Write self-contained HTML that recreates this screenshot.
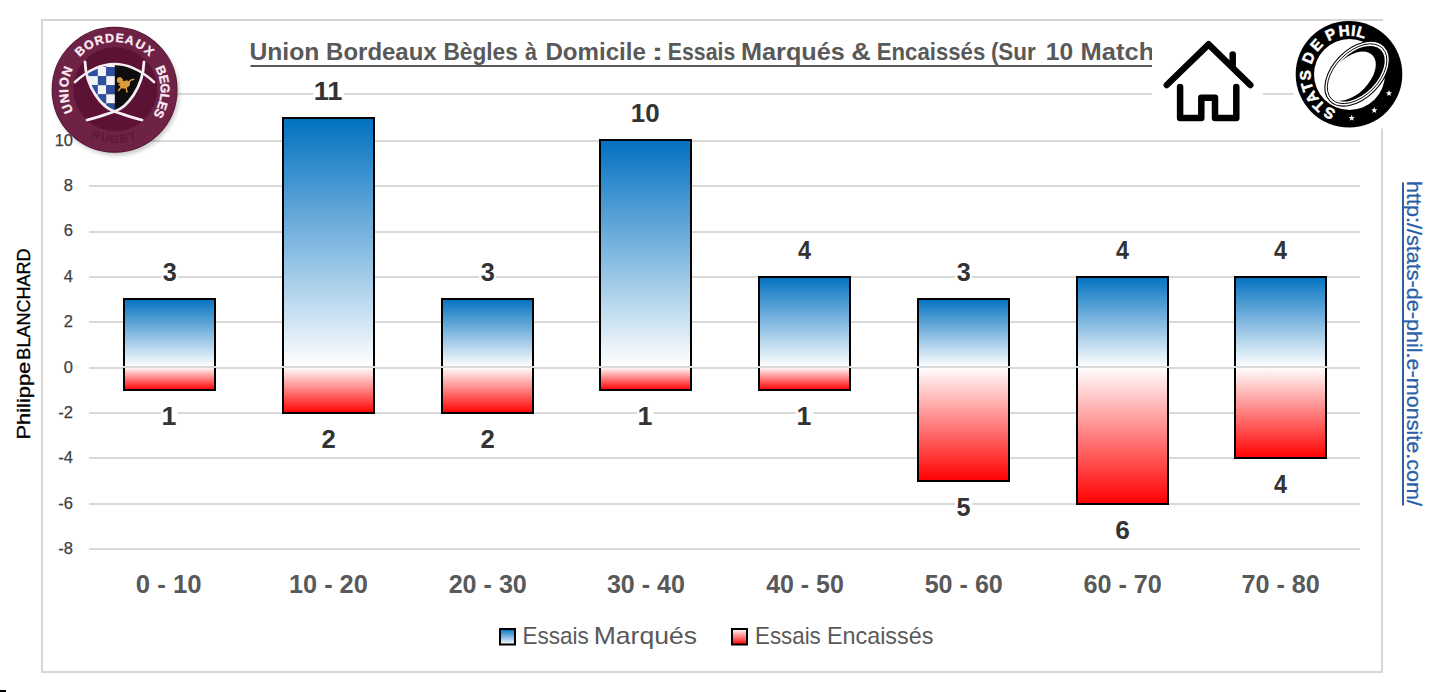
<!DOCTYPE html>
<html><head><meta charset="utf-8">
<style>
html,body{margin:0;padding:0;background:#fff;width:1434px;height:692px;overflow:hidden}
svg{position:absolute;left:0;top:0}
text{font-family:"Liberation Sans",sans-serif}
.yl{font-size:16.5px;fill:#404040;stroke:#404040;stroke-width:0.25px;text-anchor:end}
.dl{font-size:24.3px;font-weight:bold;fill:#333333;text-anchor:middle}
.xl{font-size:24.6px;font-weight:bold;fill:#595959;text-anchor:middle}
.lg{font-size:24.2px;fill:#595959}
</style></head><body>
<svg width="1434" height="692" viewBox="0 0 1434 692">
<defs>
<linearGradient id="gb" x1="0" y1="0" x2="0" y2="1">
<stop offset="0" stop-color="#0070c0"/><stop offset="1" stop-color="#ffffff"/>
</linearGradient>
<linearGradient id="gr" x1="0" y1="0" x2="0" y2="1">
<stop offset="0" stop-color="#ffffff"/><stop offset="1" stop-color="#ff0000"/>
</linearGradient>
</defs>
<rect x="42" y="20" width="1340" height="652" fill="none" stroke="#d6d6d6" stroke-width="2"/>
<rect x="89" y="548" width="1271" height="2" fill="#d9d9d9"/>
<rect x="89" y="503" width="1271" height="2" fill="#d9d9d9"/>
<rect x="89" y="457" width="1271" height="2" fill="#d9d9d9"/>
<rect x="89" y="412" width="1271" height="2" fill="#d9d9d9"/>
<rect x="89" y="367" width="1271" height="2" fill="#d9d9d9"/>
<rect x="89" y="321" width="1271" height="2" fill="#d9d9d9"/>
<rect x="89" y="276" width="1271" height="2" fill="#d9d9d9"/>
<rect x="89" y="231" width="1271" height="2" fill="#d9d9d9"/>
<rect x="89" y="185" width="1271" height="2" fill="#d9d9d9"/>
<rect x="89" y="140" width="1271" height="2" fill="#d9d9d9"/>
<rect x="89" y="93" width="1271" height="2" fill="#d9d9d9"/>
<text x="73" y="554.2" class="yl">-8</text>
<text x="73" y="508.8" class="yl">-6</text>
<text x="73" y="463.4" class="yl">-4</text>
<text x="73" y="418.0" class="yl">-2</text>
<text x="73" y="372.6" class="yl">0</text>
<text x="73" y="327.2" class="yl">2</text>
<text x="73" y="281.8" class="yl">4</text>
<text x="73" y="236.4" class="yl">6</text>
<text x="73" y="191.0" class="yl">8</text>
<text x="73" y="145.6" class="yl">10</text>
<rect x="124" y="298" width="91" height="69" fill="url(#gb)"/>
<rect x="124" y="367" width="91" height="23" fill="url(#gr)"/>
<path d="M124,367 V299 H215 V367 M124,367 V390 H215 V367" fill="none" stroke="#000" stroke-width="2"/>
<rect x="123" y="366" width="93" height="2" fill="#d9d9d9"/>
<rect x="161.2" y="260.7" width="16.6" height="23" fill="#fff"/>
<text x="162.70" y="280.70" font-size="25.5px" font-weight="bold" fill="#333333" textLength="14.01" lengthAdjust="spacingAndGlyphs" >3</text>
<rect x="161.2" y="405.2" width="16.6" height="23" fill="#fff"/>
<text x="161.59" y="425.20" font-size="25.5px" font-weight="bold" fill="#333333" textLength="14.91" lengthAdjust="spacingAndGlyphs" >1</text>
<text x="135.77" y="592.80" font-size="25.5px" font-weight="bold" fill="#595959" textLength="65.78" lengthAdjust="spacingAndGlyphs" >0 - 10</text>
<rect x="283" y="117" width="91" height="250" fill="url(#gb)"/>
<rect x="283" y="367" width="91" height="46" fill="url(#gr)"/>
<path d="M283,367 V118 H374 V367 M283,367 V413 H374 V367" fill="none" stroke="#000" stroke-width="2"/>
<rect x="282" y="366" width="93" height="2" fill="#d9d9d9"/>
<rect x="313.3" y="79.7" width="30.4" height="23" fill="#fff"/>
<text x="313.67" y="99.70" font-size="25.5px" font-weight="bold" fill="#333333" textLength="28.77" lengthAdjust="spacingAndGlyphs" >11</text>
<rect x="320.2" y="428.2" width="16.6" height="23" fill="#fff"/>
<text x="321.43" y="448.20" font-size="25.5px" font-weight="bold" fill="#333333" textLength="14.30" lengthAdjust="spacingAndGlyphs" >2</text>
<text x="288.88" y="592.80" font-size="25.5px" font-weight="bold" fill="#595959" textLength="78.96" lengthAdjust="spacingAndGlyphs" >10 - 20</text>
<rect x="442" y="298" width="91" height="69" fill="url(#gb)"/>
<rect x="442" y="367" width="91" height="46" fill="url(#gr)"/>
<path d="M442,367 V299 H533 V367 M442,367 V413 H533 V367" fill="none" stroke="#000" stroke-width="2"/>
<rect x="441" y="366" width="93" height="2" fill="#d9d9d9"/>
<rect x="479.2" y="260.7" width="16.6" height="23" fill="#fff"/>
<text x="480.70" y="280.70" font-size="25.5px" font-weight="bold" fill="#333333" textLength="14.01" lengthAdjust="spacingAndGlyphs" >3</text>
<rect x="479.2" y="428.2" width="16.6" height="23" fill="#fff"/>
<text x="480.43" y="448.20" font-size="25.5px" font-weight="bold" fill="#333333" textLength="14.30" lengthAdjust="spacingAndGlyphs" >2</text>
<text x="448.65" y="592.80" font-size="25.5px" font-weight="bold" fill="#595959" textLength="78.18" lengthAdjust="spacingAndGlyphs" >20 - 30</text>
<rect x="600" y="139" width="91" height="228" fill="url(#gb)"/>
<rect x="600" y="367" width="91" height="23" fill="url(#gr)"/>
<path d="M600,367 V140 H691 V367 M600,367 V390 H691 V367" fill="none" stroke="#000" stroke-width="2"/>
<rect x="599" y="366" width="93" height="2" fill="#d9d9d9"/>
<rect x="630.3" y="101.7" width="30.4" height="23" fill="#fff"/>
<text x="630.75" y="121.70" font-size="25.5px" font-weight="bold" fill="#333333" textLength="28.79" lengthAdjust="spacingAndGlyphs" >10</text>
<rect x="637.2" y="405.2" width="16.6" height="23" fill="#fff"/>
<text x="637.59" y="425.20" font-size="25.5px" font-weight="bold" fill="#333333" textLength="14.91" lengthAdjust="spacingAndGlyphs" >1</text>
<text x="606.90" y="592.80" font-size="25.5px" font-weight="bold" fill="#595959" textLength="77.93" lengthAdjust="spacingAndGlyphs" >30 - 40</text>
<rect x="759" y="276" width="91" height="91" fill="url(#gb)"/>
<rect x="759" y="367" width="91" height="23" fill="url(#gr)"/>
<path d="M759,367 V277 H850 V367 M759,367 V390 H850 V367" fill="none" stroke="#000" stroke-width="2"/>
<rect x="758" y="366" width="93" height="2" fill="#d9d9d9"/>
<rect x="796.2" y="238.7" width="16.6" height="23" fill="#fff"/>
<text x="797.97" y="258.70" font-size="25.5px" font-weight="bold" fill="#333333" textLength="12.98" lengthAdjust="spacingAndGlyphs" >4</text>
<rect x="796.2" y="405.2" width="16.6" height="23" fill="#fff"/>
<text x="796.59" y="425.20" font-size="25.5px" font-weight="bold" fill="#333333" textLength="14.91" lengthAdjust="spacingAndGlyphs" >1</text>
<text x="766.15" y="592.80" font-size="25.5px" font-weight="bold" fill="#595959" textLength="77.67" lengthAdjust="spacingAndGlyphs" >40 - 50</text>
<rect x="918" y="298" width="91" height="69" fill="url(#gb)"/>
<rect x="918" y="367" width="91" height="114" fill="url(#gr)"/>
<path d="M918,367 V299 H1009 V367 M918,367 V481 H1009 V367" fill="none" stroke="#000" stroke-width="2"/>
<rect x="917" y="366" width="93" height="2" fill="#d9d9d9"/>
<rect x="955.2" y="260.7" width="16.6" height="23" fill="#fff"/>
<text x="956.70" y="280.70" font-size="25.5px" font-weight="bold" fill="#333333" textLength="14.01" lengthAdjust="spacingAndGlyphs" >3</text>
<rect x="955.2" y="496.2" width="16.6" height="23" fill="#fff"/>
<text x="956.44" y="516.20" font-size="25.5px" font-weight="bold" fill="#333333" textLength="14.01" lengthAdjust="spacingAndGlyphs" >5</text>
<text x="924.65" y="592.80" font-size="25.5px" font-weight="bold" fill="#595959" textLength="78.18" lengthAdjust="spacingAndGlyphs" >50 - 60</text>
<rect x="1077" y="276" width="91" height="91" fill="url(#gb)"/>
<rect x="1077" y="367" width="91" height="137" fill="url(#gr)"/>
<path d="M1077,367 V277 H1168 V367 M1077,367 V504 H1168 V367" fill="none" stroke="#000" stroke-width="2"/>
<rect x="1076" y="366" width="93" height="2" fill="#d9d9d9"/>
<rect x="1114.2" y="238.7" width="16.6" height="23" fill="#fff"/>
<text x="1115.97" y="258.70" font-size="25.5px" font-weight="bold" fill="#333333" textLength="12.98" lengthAdjust="spacingAndGlyphs" >4</text>
<rect x="1114.2" y="519.2" width="16.6" height="23" fill="#fff"/>
<text x="1115.15" y="539.20" font-size="25.5px" font-weight="bold" fill="#333333" textLength="14.60" lengthAdjust="spacingAndGlyphs" >6</text>
<text x="1083.39" y="592.80" font-size="25.5px" font-weight="bold" fill="#595959" textLength="78.44" lengthAdjust="spacingAndGlyphs" >60 - 70</text>
<rect x="1235" y="276" width="91" height="91" fill="url(#gb)"/>
<rect x="1235" y="367" width="91" height="91" fill="url(#gr)"/>
<path d="M1235,367 V277 H1326 V367 M1235,367 V458 H1326 V367" fill="none" stroke="#000" stroke-width="2"/>
<rect x="1234" y="366" width="93" height="2" fill="#d9d9d9"/>
<rect x="1272.2" y="238.7" width="16.6" height="23" fill="#fff"/>
<text x="1273.97" y="258.70" font-size="25.5px" font-weight="bold" fill="#333333" textLength="12.98" lengthAdjust="spacingAndGlyphs" >4</text>
<rect x="1272.2" y="473.2" width="16.6" height="23" fill="#fff"/>
<text x="1273.97" y="493.20" font-size="25.5px" font-weight="bold" fill="#333333" textLength="12.98" lengthAdjust="spacingAndGlyphs" >4</text>
<text x="1241.39" y="592.80" font-size="25.5px" font-weight="bold" fill="#595959" textLength="78.44" lengthAdjust="spacingAndGlyphs" >70 - 80</text>
<text x="249.42" y="60.30" font-size="24px" font-weight="bold" fill="#595959" textLength="69.92" lengthAdjust="spacingAndGlyphs" >Union</text>
<text x="326.12" y="60.30" font-size="24px" font-weight="bold" fill="#595959" textLength="110.53" lengthAdjust="spacingAndGlyphs" >Bordeaux</text>
<text x="443.41" y="60.30" font-size="24px" font-weight="bold" fill="#595959" textLength="74.48" lengthAdjust="spacingAndGlyphs" >Bègles</text>
<text x="524.97" y="60.30" font-size="24px" font-weight="bold" fill="#595959" textLength="11.95" lengthAdjust="spacingAndGlyphs" >à</text>
<text x="545.41" y="60.30" font-size="24px" font-weight="bold" fill="#595959" textLength="100.50" lengthAdjust="spacingAndGlyphs" >Domicile</text>
<text x="651.43" y="60.30" font-size="24px" font-weight="bold" fill="#595959" textLength="11.89" lengthAdjust="spacingAndGlyphs" >:</text>
<text x="667.81" y="60.30" font-size="24px" font-weight="bold" fill="#595959" textLength="67.42" lengthAdjust="spacingAndGlyphs" >Essais</text>
<text x="741.03" y="60.30" font-size="24px" font-weight="bold" fill="#595959" textLength="103.77" lengthAdjust="spacingAndGlyphs" >Marqués</text>
<text x="851.32" y="60.30" font-size="24px" font-weight="bold" fill="#595959" textLength="19.55" lengthAdjust="spacingAndGlyphs" >&amp;</text>
<text x="876.75" y="60.30" font-size="24px" font-weight="bold" fill="#595959" textLength="108.47" lengthAdjust="spacingAndGlyphs" >Encaissés</text>
<text x="990.88" y="60.30" font-size="24px" font-weight="bold" fill="#595959" textLength="44.85" lengthAdjust="spacingAndGlyphs" >(Sur</text>
<text x="1045.72" y="60.30" font-size="24px" font-weight="bold" fill="#595959" textLength="27.37" lengthAdjust="spacingAndGlyphs" >10</text>
<text x="1080.62" y="60.30" font-size="24px" font-weight="bold" fill="#595959" textLength="73.58" lengthAdjust="spacingAndGlyphs" >Match</text>
<rect x="250.5" y="65" width="902.5" height="2" fill="#595959"/>
<rect x="500" y="629" width="15" height="15.5" fill="url(#gb)" stroke="#000" stroke-width="2"/>
<text x="522.50" y="643.90" font-size="24px" font-weight="normal" fill="#595959" textLength="66.30" lengthAdjust="spacingAndGlyphs" >Essais</text>
<text x="593.78" y="643.90" font-size="24px" font-weight="normal" fill="#595959" textLength="103.19" lengthAdjust="spacingAndGlyphs" >Marqués</text>
<text x="755.01" y="643.90" font-size="24px" font-weight="normal" fill="#595959" textLength="65.78" lengthAdjust="spacingAndGlyphs" >Essais</text>
<text x="826.93" y="643.90" font-size="24px" font-weight="normal" fill="#595959" textLength="106.44" lengthAdjust="spacingAndGlyphs" >Encaissés</text>
<rect x="732" y="629" width="15" height="15.5" fill="url(#gr)" stroke="#000" stroke-width="2"/>

<g transform="translate(29.9,0) rotate(-90)"><text x="-439.55" y="0.00" font-size="18.3px" font-weight="normal" fill="#000" textLength="77.80" lengthAdjust="spacingAndGlyphs" stroke="#000" stroke-width="0.3">Philippe</text><text x="-359.64" y="0.00" font-size="18.3px" font-weight="normal" fill="#000" textLength="111.13" lengthAdjust="spacingAndGlyphs" stroke="#000" stroke-width="0.3">BLANCHARD</text></g>
<g transform="translate(1406.5,0) rotate(90)"><text x="181.09" y="0.00" font-size="19.5px" font-weight="normal" fill="#2a5fa8" textLength="324.92" lengthAdjust="spacingAndGlyphs" stroke="#2a5fa8" stroke-width="0.3">http://stats-de-phil.e-monsite.com/</text></g>
<rect x="1402" y="182.5" width="2" height="323" fill="#2a5fa8"/>
<rect x="1152" y="22" width="111" height="106" fill="#fff"/>
<g fill="none" stroke="#000" stroke-width="6.5" stroke-linecap="round" stroke-linejoin="round">
<polyline points="1166.8,85 1208.6,44.3 1250.3,85"/>
<line x1="1232.7" y1="54.5" x2="1232.7" y2="65"/>
<polyline points="1180.1,87 1180.1,118 1201.3,118 1201.3,97.8 1215,97.8 1215,118 1236.3,118 1236.3,87"/>
</g>
<filter id="blr" x="-20%" y="-20%" width="140%" height="140%"><feGaussianBlur stdDeviation="2"/></filter>
<circle cx="116.6" cy="92.8" r="62.5" fill="#000" opacity="0.22" filter="url(#blr)"/>
<circle cx="114.6" cy="89.8" r="62.4" fill="#6e2246" stroke="#5c1737" stroke-width="1.2"/>
<circle cx="115.3" cy="89.3" r="42" fill="#5b1234"/>
<text transform="translate(67.28,108.82) rotate(-111.90)" text-anchor="middle" dominant-baseline="central" font-size="12.8px" font-weight="bold" fill="#fbeaf2" stroke="#fbeaf2" stroke-width="0.35">U</text>
<text transform="translate(64.34,98.48) rotate(-99.80)" text-anchor="middle" dominant-baseline="central" font-size="12.8px" font-weight="bold" fill="#fbeaf2" stroke="#fbeaf2" stroke-width="0.35">N</text>
<text transform="translate(63.62,91.05) rotate(-91.40)" text-anchor="middle" dominant-baseline="central" font-size="12.8px" font-weight="bold" fill="#fbeaf2" stroke="#fbeaf2" stroke-width="0.35">I</text>
<text transform="translate(64.16,82.26) rotate(-81.50)" text-anchor="middle" dominant-baseline="central" font-size="12.8px" font-weight="bold" fill="#fbeaf2" stroke="#fbeaf2" stroke-width="0.35">O</text>
<text transform="translate(67.05,71.36) rotate(-68.80)" text-anchor="middle" dominant-baseline="central" font-size="12.8px" font-weight="bold" fill="#fbeaf2" stroke="#fbeaf2" stroke-width="0.35">N</text>
<text transform="translate(80.07,51.18) rotate(-41.80)" text-anchor="middle" dominant-baseline="central" font-size="12.3px" font-weight="bold" fill="#fbeaf2" stroke="#fbeaf2" stroke-width="0.35">B</text>
<text transform="translate(88.94,44.80) rotate(-29.70)" text-anchor="middle" dominant-baseline="central" font-size="12.3px" font-weight="bold" fill="#fbeaf2" stroke="#fbeaf2" stroke-width="0.35">O</text>
<text transform="translate(98.94,40.42) rotate(-17.60)" text-anchor="middle" dominant-baseline="central" font-size="12.3px" font-weight="bold" fill="#fbeaf2" stroke="#fbeaf2" stroke-width="0.35">R</text>
<text transform="translate(109.55,38.25) rotate(-5.60)" text-anchor="middle" dominant-baseline="central" font-size="12.3px" font-weight="bold" fill="#fbeaf2" stroke="#fbeaf2" stroke-width="0.35">D</text>
<text transform="translate(119.65,38.25) rotate(5.60)" text-anchor="middle" dominant-baseline="central" font-size="12.3px" font-weight="bold" fill="#fbeaf2" stroke="#fbeaf2" stroke-width="0.35">E</text>
<text transform="translate(129.74,40.26) rotate(17.00)" text-anchor="middle" dominant-baseline="central" font-size="12.3px" font-weight="bold" fill="#fbeaf2" stroke="#fbeaf2" stroke-width="0.35">A</text>
<text transform="translate(140.19,44.76) rotate(29.60)" text-anchor="middle" dominant-baseline="central" font-size="12.3px" font-weight="bold" fill="#fbeaf2" stroke="#fbeaf2" stroke-width="0.35">U</text>
<text transform="translate(148.86,50.94) rotate(41.40)" text-anchor="middle" dominant-baseline="central" font-size="12.3px" font-weight="bold" fill="#fbeaf2" stroke="#fbeaf2" stroke-width="0.35">X</text>
<text transform="translate(161.22,70.39) rotate(67.40)" text-anchor="middle" dominant-baseline="central" font-size="12.8px" font-weight="bold" fill="#fbeaf2" stroke="#fbeaf2" stroke-width="0.35">B</text>
<text transform="translate(163.98,79.21) rotate(77.90)" text-anchor="middle" dominant-baseline="central" font-size="12.8px" font-weight="bold" fill="#fbeaf2" stroke="#fbeaf2" stroke-width="0.35">E</text>
<text transform="translate(165.08,88.39) rotate(88.40)" text-anchor="middle" dominant-baseline="central" font-size="12.8px" font-weight="bold" fill="#fbeaf2" stroke="#fbeaf2" stroke-width="0.35">G</text>
<text transform="translate(164.49,97.61) rotate(98.90)" text-anchor="middle" dominant-baseline="central" font-size="12.8px" font-weight="bold" fill="#fbeaf2" stroke="#fbeaf2" stroke-width="0.35">L</text>
<text transform="translate(162.55,105.66) rotate(108.30)" text-anchor="middle" dominant-baseline="central" font-size="12.8px" font-weight="bold" fill="#fbeaf2" stroke="#fbeaf2" stroke-width="0.35">E</text>
<text transform="translate(159.11,113.66) rotate(118.20)" text-anchor="middle" dominant-baseline="central" font-size="12.8px" font-weight="bold" fill="#fbeaf2" stroke="#fbeaf2" stroke-width="0.35">S</text>
<text transform="translate(95.77,135.25) rotate(22.50)" text-anchor="middle" dominant-baseline="central" font-size="11.5px" font-weight="bold" fill="#5e1a3a" stroke="#5e1a3a" stroke-width="0.35">R</text>
<text transform="translate(104.79,138.01) rotate(11.50)" text-anchor="middle" dominant-baseline="central" font-size="11.5px" font-weight="bold" fill="#5e1a3a" stroke="#5e1a3a" stroke-width="0.35">U</text>
<text transform="translate(114.17,139.00) rotate(0.50)" text-anchor="middle" dominant-baseline="central" font-size="11.5px" font-weight="bold" fill="#5e1a3a" stroke="#5e1a3a" stroke-width="0.35">G</text>
<text transform="translate(123.57,138.18) rotate(-10.50)" text-anchor="middle" dominant-baseline="central" font-size="11.5px" font-weight="bold" fill="#5e1a3a" stroke="#5e1a3a" stroke-width="0.35">B</text>
<text transform="translate(132.23,135.73) rotate(-21.00)" text-anchor="middle" dominant-baseline="central" font-size="11.5px" font-weight="bold" fill="#5e1a3a" stroke="#5e1a3a" stroke-width="0.35">Y</text>
<clipPath id="sha"><path d="M75,82 Q114.5,46 154,82 L154,130 L75,130 Z"/></clipPath>
<clipPath id="shb"><path d="M85,62 C86,88 102.1,107.7 114.5,111.5 C126.9,107.7 143,88 144,62 Z"/></clipPath>
<g clip-path="url(#sha)"><g clip-path="url(#shb)">
<rect x="80" y="50" width="70" height="70" fill="#0d0d0f"/>
<rect x="83.4" y="57.9" width="14.6" height="9.3" fill="#f2f3f8"/>
<rect x="97.8" y="57.9" width="8.6" height="9.3" fill="#2d4f9e"/>
<rect x="106.2" y="57.9" width="8.6" height="9.3" fill="#f2f3f8"/>
<rect x="83.4" y="67.0" width="14.6" height="9.3" fill="#2d4f9e"/>
<rect x="97.8" y="67.0" width="8.6" height="9.3" fill="#f2f3f8"/>
<rect x="106.2" y="67.0" width="8.6" height="9.3" fill="#2d4f9e"/>
<rect x="83.4" y="76.1" width="14.6" height="9.3" fill="#f2f3f8"/>
<rect x="97.8" y="76.1" width="8.6" height="9.3" fill="#2d4f9e"/>
<rect x="106.2" y="76.1" width="8.6" height="9.3" fill="#f2f3f8"/>
<rect x="83.4" y="85.2" width="14.6" height="9.3" fill="#2d4f9e"/>
<rect x="97.8" y="85.2" width="8.6" height="9.3" fill="#f2f3f8"/>
<rect x="106.2" y="85.2" width="8.6" height="9.3" fill="#2d4f9e"/>
<rect x="83.4" y="94.3" width="14.6" height="9.3" fill="#f2f3f8"/>
<rect x="97.8" y="94.3" width="8.6" height="9.3" fill="#2d4f9e"/>
<rect x="106.2" y="94.3" width="8.6" height="9.3" fill="#f2f3f8"/>
<rect x="83.4" y="103.4" width="14.6" height="9.3" fill="#2d4f9e"/>
<rect x="97.8" y="103.4" width="8.6" height="9.3" fill="#f2f3f8"/>
<rect x="106.2" y="103.4" width="8.6" height="9.3" fill="#2d4f9e"/>
</g></g>
<g fill="#dd9c3c" stroke="#dd9c3c" stroke-linecap="round" stroke-linejoin="round">
<circle cx="119.8" cy="80.2" r="2.6"/>
<ellipse cx="125" cy="84.5" rx="4.8" ry="3.2" transform="rotate(-25 125 84.5)"/>
<path d="M129,82 Q131,79 133.5,79.5" fill="none" stroke-width="1.6"/>
<path d="M121.5,87 L118.5,90.5 M126,87.5 L127,92 M123,81.5 L119,85" fill="none" stroke-width="1.5"/>
</g>
<path d="M75,82 Q114.5,46 154,82" fill="none" stroke="#f6eef2" stroke-width="2.6" stroke-linecap="round"/>
<path d="M85,62 C86,88 102.1,107.7 114.5,111.5 C124,114.5 133,118 142,120" fill="none" stroke="#f6eef2" stroke-width="2.8" stroke-linecap="round"/>
<path d="M144,62 C143,88 126.9,107.7 114.5,111.5 C105,114.5 96,118 87,120" fill="none" stroke="#f6eef2" stroke-width="2.8" stroke-linecap="round"/>
<rect x="1293.5" y="21" width="91.5" height="107.5" fill="#fff"/>
<circle cx="1349" cy="74.2" r="53.3" fill="#000"/>
<circle cx="1349.5" cy="74.5" r="35.5" fill="#fff"/>
<text transform="translate(1329.16,113.47) rotate(-153.20)" text-anchor="middle" dominant-baseline="central" font-size="15.2px" font-weight="bold" fill="#fff" stroke="#fff" stroke-width="0.5">S</text>
<text transform="translate(1318.55,105.96) rotate(-136.20)" text-anchor="middle" dominant-baseline="central" font-size="15.2px" font-weight="bold" fill="#fff" stroke="#fff" stroke-width="0.5">T</text>
<text transform="translate(1311.60,97.39) rotate(-121.80)" text-anchor="middle" dominant-baseline="central" font-size="15.2px" font-weight="bold" fill="#fff" stroke="#fff" stroke-width="0.5">A</text>
<text transform="translate(1306.88,86.92) rotate(-106.80)" text-anchor="middle" dominant-baseline="central" font-size="15.2px" font-weight="bold" fill="#fff" stroke="#fff" stroke-width="0.5">T</text>
<text transform="translate(1305.02,75.35) rotate(-91.50)" text-anchor="middle" dominant-baseline="central" font-size="15.2px" font-weight="bold" fill="#fff" stroke="#fff" stroke-width="0.5">S</text>
<text transform="translate(1308.26,57.58) rotate(-67.80)" text-anchor="middle" dominant-baseline="central" font-size="15.2px" font-weight="bold" fill="#fff" stroke="#fff" stroke-width="0.5">D</text>
<text transform="translate(1316.35,44.70) rotate(-47.90)" text-anchor="middle" dominant-baseline="central" font-size="15.2px" font-weight="bold" fill="#fff" stroke="#fff" stroke-width="0.5">E</text>
<text transform="translate(1330.61,34.23) rotate(-24.70)" text-anchor="middle" dominant-baseline="central" font-size="15.2px" font-weight="bold" fill="#fff" stroke="#fff" stroke-width="0.5">P</text>
<text transform="translate(1344.17,30.47) rotate(-6.30)" text-anchor="middle" dominant-baseline="central" font-size="15.2px" font-weight="bold" fill="#fff" stroke="#fff" stroke-width="0.5">H</text>
<text transform="translate(1353.52,30.43) rotate(5.90)" text-anchor="middle" dominant-baseline="central" font-size="15.2px" font-weight="bold" fill="#fff" stroke="#fff" stroke-width="0.5">I</text>
<text transform="translate(1361.42,31.99) rotate(16.40)" text-anchor="middle" dominant-baseline="central" font-size="15.2px" font-weight="bold" fill="#fff" stroke="#fff" stroke-width="0.5">L</text>
<polygon points="1389.00,90.00 1389.82,92.17 1392.14,92.28 1390.33,93.73 1390.94,95.97 1389.00,94.70 1387.06,95.97 1387.67,93.73 1385.86,92.28 1388.18,92.17" fill="#fff"/>
<polygon points="1374.30,107.00 1375.12,109.17 1377.44,109.28 1375.63,110.73 1376.24,112.97 1374.30,111.70 1372.36,112.97 1372.97,110.73 1371.16,109.28 1373.48,109.17" fill="#fff"/>
<polygon points="1351.70,114.80 1352.52,116.97 1354.84,117.08 1353.03,118.53 1353.64,120.77 1351.70,119.50 1349.76,120.77 1350.37,118.53 1348.56,117.08 1350.88,116.97" fill="#fff"/>
<clipPath id="fc"><ellipse cx="0" cy="0" rx="34.9" ry="21"/></clipPath>
<g transform="translate(1357.1,73.7) rotate(-45.3)">
<ellipse cx="0" cy="0" rx="38.6" ry="24.4" fill="#fff" stroke="#000" stroke-width="1.1"/>
<ellipse cx="0" cy="0" rx="36" ry="22" fill="none" stroke="#000" stroke-width="0.9"/>
<ellipse cx="0" cy="0" rx="33.6" ry="20.2" fill="#000"/>
<ellipse cx="-5.8" cy="-2.4" rx="29.8" ry="17.8" fill="#fff" clip-path="url(#fc)"/>
</g>
<rect x="0" y="690" width="6" height="2" fill="#000"/>
</svg>
</body></html>
